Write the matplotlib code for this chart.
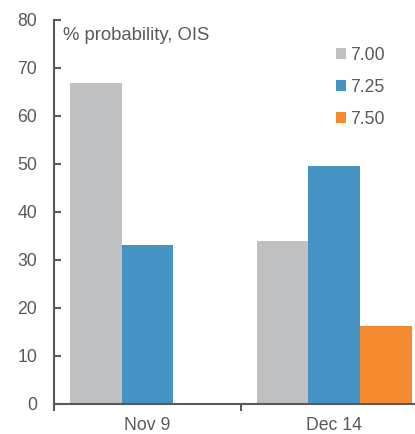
import matplotlib
matplotlib.use("Agg")
from matplotlib import pyplot as plt
from matplotlib.patches import Patch
import numpy as np

# data
dates = ["Nov 9", "Dec 14"]
rates = ["7.00", "7.25", "7.50"]
p700 = [66.9, 34.0]
p725 = [33.1, 49.6]
p750 = [0.0, 16.3]

colors = ["#BFC0C2", "#4493C2", "#F58A31"]
grey = "#595959"

plt.rcParams["font.family"] = ["Liberation Sans", "DejaVu Sans"]
plt.rcParams["font.size"] = 12.7

fig = plt.figure(figsize=(4.15, 4.34), dpi=100)
ax = fig.add_axes([54 / 415, 1 - 404 / 434, 1 - 54 / 415, (404 - 20) / 434])

x = np.arange(len(dates))
w = 0.277
for i, (vals, c) in enumerate(zip([p700, p725, p750], colors)):
    ax.bar(x + (i - 1) * w, vals, width=w, color=c, edgecolor="none")

ax.set_xlim(-0.5, 1.433)
ax.set_ylim(0, 80)
ax.set_yticks(range(0, 81, 10))

ax.set_xticks([-0.5, 0.5])
ax.set_xticklabels([])
ax.set_xticks(x, minor=True)
ax.set_xticklabels(dates, minor=True)
ax.tick_params(axis="x", which="major", direction="out", length=5, width=1.5, color=grey)
ax.tick_params(axis="x", which="minor", length=0, pad=9.5, labelcolor=grey)
ax.tick_params(axis="y", direction="in", length=5, width=1.5, color=grey, pad=12, labelcolor=grey)

for s in ["top", "right"]:
    ax.spines[s].set_visible(False)
for s in ["left", "bottom"]:
    ax.spines[s].set_color(grey)
    ax.spines[s].set_linewidth(1.5)

fig.text(63 / 415, 1 - 40.5 / 434, "% probability, OIS", color=grey, va="baseline",
         ha="left", fontsize=13.3)

handles = [Patch(facecolor=c, edgecolor="none", label=r) for c, r in zip(colors, rates)]
fig.legend(handles=handles, loc="upper left", bbox_to_anchor=(336 / 415, 1 - 47 / 434),
           frameon=False, borderpad=0, borderaxespad=0, labelspacing=0.85,
           handlelength=0.54, handleheight=0.54, handletextpad=0.27,
           labelcolor=grey, fontsize=12.7)

fig.savefig("out.png", dpi=100)
